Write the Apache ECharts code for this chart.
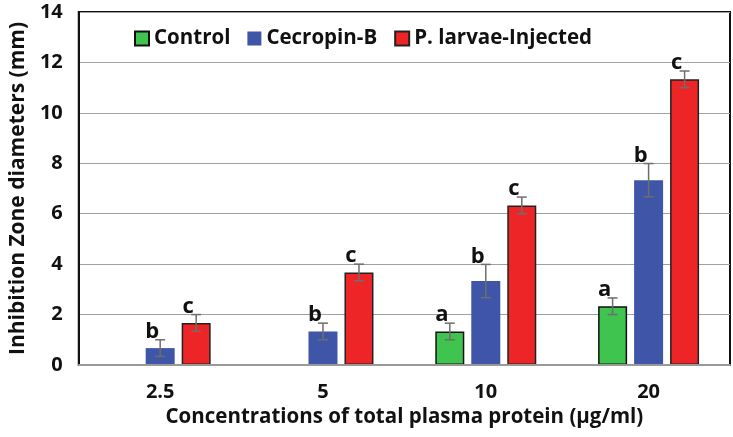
<!DOCTYPE html>
<html>
<head>
<meta charset="utf-8">
<script src="https://cdn.jsdelivr.net/npm/echarts@6/dist/echarts.min.js"></script>
<style>html,body{margin:0;padding:0;background:#fff;}#c{width:733px;height:437px;}</style>
</head>
<body>
<div id="c"></div>
<script>
var categories = ['2.5', '5', '10', '20'];
var seriesNames = ['Control', 'Cecropin-B', 'P. larvae-Injected'];
var controlValues = [null, null, 1.33, 2.33];
var cecropinValues = [0.67, 1.33, 3.33, 7.33];
var larvaeValues = [1.67, 3.67, 6.33, 11.33];
var controlErr = [null, null, 0.33, 0.33];
var cecropinErr = [0.33, 0.33, 0.66, 0.66];
var larvaeErr = [0.33, 0.33, 0.33, 0.33];
var controlLetters = ['', '', 'a', 'a'];
var cecropinLetters = ['b', 'b', 'b', 'b'];
var larvaeLetters = ['c', 'c', 'c', 'c'];
var yTicks = { min: 0, max: 14, interval: 2 };

var FONT = '"Open Sans"';
var colors = ['#3fc450', '#3f55a8', '#ee2526'];
var borders = ['#111', null, '#222'];
var BAR_W = 29, GAP = 7;
var values = [controlValues, cecropinValues, larvaeValues];
var errs = [controlErr, cecropinErr, larvaeErr];
var letters = [controlLetters, cecropinLetters, larvaeLetters];

var series = [];
seriesNames.forEach(function (name, i) {
  var st = { color: colors[i] };
  if (borders[i]) { st.borderColor = borders[i]; st.borderWidth = 1.5; }
  series.push({
    name: name, type: 'bar', barWidth: BAR_W, barGap: (GAP / BAR_W * 100).toFixed(1) + '%',
    itemStyle: st, data: values[i], z: 2
  });
});
seriesNames.forEach(function (name, i) {
  var data = [];
  values[i].forEach(function (v, k) {
    if (v != null) data.push([k, v, errs[i][k], letters[i][k]]);
  });
  series.push({
    type: 'custom', name: name + ' err', z: 5, silent: true,
    encode: { x: 0, y: 1 },
    data: data,
    renderItem: function (params, api) {
      var k = api.value(0), v = api.value(1), e = api.value(2);
      var letter = data[params.dataIndex][3];
      var off = (i - 1) * (BAR_W + GAP);
      var c = api.coord([k, v]);
      var top = api.coord([k, v + e]);
      var bot = api.coord([k, v - e]);
      var x = c[0] + off;
      var cap = 5;
      var st = { stroke: '#6e6e6e', lineWidth: 1.5 };
      return {
        type: 'group', children: [
          { type: 'line', shape: { x1: x, y1: top[1], x2: x, y2: bot[1] }, style: st },
          { type: 'line', shape: { x1: x - cap, y1: top[1], x2: x + cap, y2: top[1] }, style: st },
          { type: 'line', shape: { x1: x - cap, y1: bot[1], x2: x + cap, y2: bot[1] }, style: st },
          { type: 'text', style: { text: letter, x: x - 8, y: top[1] + 3, align: 'center', verticalAlign: 'bottom',
            font: 'bold 22px ' + FONT, fill: '#111' } }
        ]
      };
    }
  });
});

var chart = echarts.init(document.getElementById('c'), null, { renderer: 'canvas' });
chart.setOption({
  animation: false,
  backgroundColor: '#fff',
  color: colors,
  grid: { left: 76, right: 3, top: 12, bottom: 72, show: true, borderColor: '#111', borderWidth: 2, backgroundColor: 'transparent' },
  legend: {
    data: seriesNames, left: 129, top: 23, itemWidth: 14, itemHeight: 14, itemGap: 17, itemTextGap: 6, icon: 'rect',
    textStyle: { fontFamily: FONT, fontWeight: 'bold', fontSize: 20.5, color: '#111' }
  },
  xAxis: {
    type: 'category', data: categories,
    axisLine: { lineStyle: { color: '#999', width: 2 } },
    axisTick: { show: false },
    axisLabel: { fontFamily: FONT, fontWeight: 'bold', fontSize: 20, color: '#111', margin: 17 },
    name: 'Concentrations of total plasma protein (μg/ml)', nameLocation: 'middle', nameGap: 42,
    nameTextStyle: { fontFamily: FONT, fontWeight: 'bold', fontSize: 20.5, color: '#111' },
    z: 3
  },
  yAxis: {
    type: 'value', min: yTicks.min, max: yTicks.max, interval: yTicks.interval,
    axisLine: { show: true, lineStyle: { color: '#111', width: 2 } },
    axisTick: { show: false },
    splitLine: { lineStyle: { color: '#a0a0a0', width: 1.2 } },
    axisLabel: { fontFamily: FONT, fontWeight: 'bold', fontSize: 20, color: '#111', margin: 16 },
    name: 'Inhibition Zone diameters (mm)', nameLocation: 'middle', nameGap: 42,
    nameTextStyle: { fontFamily: FONT, fontWeight: 'bold', fontSize: 21, color: '#111' }
  },
  series: series
});
</script>
</body>
</html>
